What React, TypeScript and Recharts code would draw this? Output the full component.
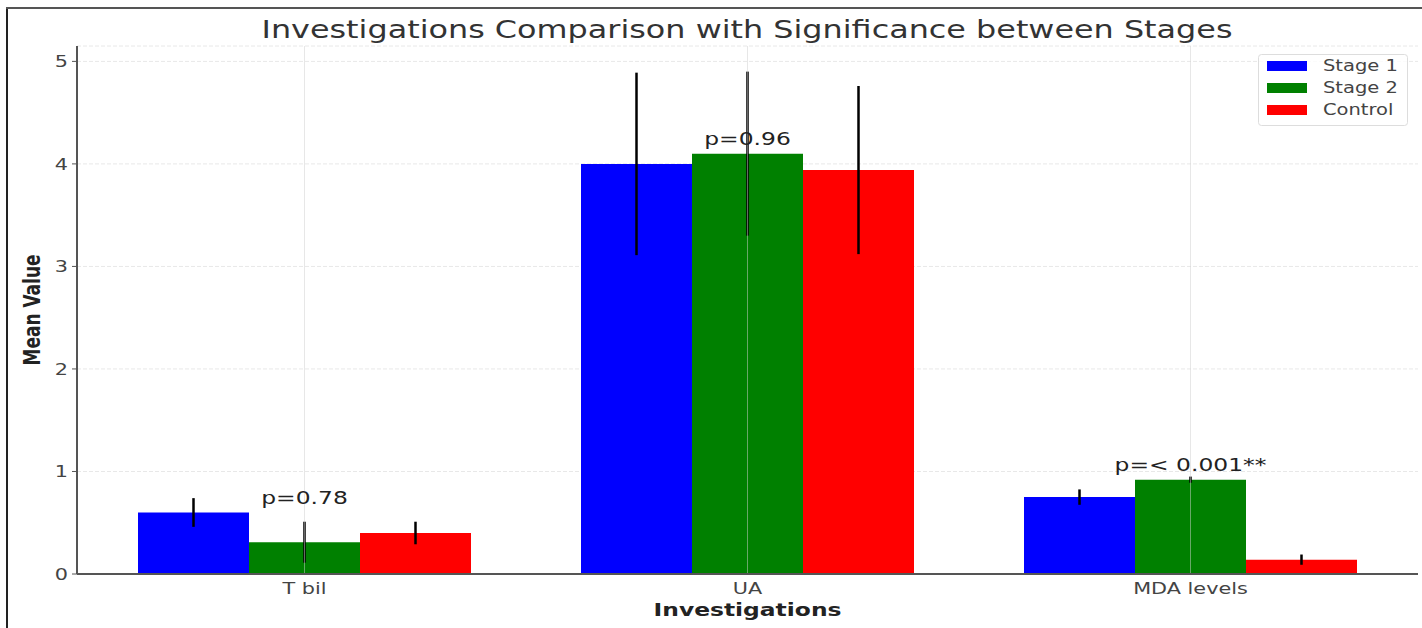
import {
  BarChart,
  Bar,
  XAxis,
  YAxis,
  CartesianGrid,
  ErrorBar,
  ReferenceDot,
  ReferenceLine,
} from "recharts";

const categories = ["T bil", "UA", "MDA levels"];
const stage1 = [0.6, 4.0, 0.75];
const stage1Err = [0.14, 0.89, 0.075];
const stage2 = [0.31, 4.1, 0.92];
const stage2Err = [0.2, 0.8, 0.03];
const control = [0.4, 3.94, 0.14];
const controlErr = [0.11, 0.82, 0.05];
const pValues = ["p=0.78", "p=0.96", "p=< 0.001**"];
const yTicks = [0, 1, 2, 3, 4, 5];

const series = [
  { key: "s1", err: "s1e", name: "Stage 1", color: "#0000ff" },
  { key: "s2", err: "s2e", name: "Stage 2", color: "#008000" },
  { key: "ctl", err: "ctle", name: "Control", color: "#ff0000" },
];

const data = categories.map((c, i) => ({
  name: c,
  s1: stage1[i],
  s1e: stage1Err[i],
  s2: stage2[i],
  s2e: stage2Err[i],
  ctl: control[i],
  ctle: controlErr[i],
  p: pValues[i],
  pY: Math.max(stage1[i], stage2[i], control[i]) + 0.15,
}));

// the source picture is stretched sideways, so text gets a horizontal scale
const SX = 1.3;
const FONT = "DejaVu Sans";

function YTick(props: any) {
  const { x, y, payload } = props;
  return (
    <text
      transform={`translate(${x},${y}) scale(${SX},1)`}
      textAnchor="end"
      dy="0.36em"
      fontSize={16}
      fontFamily={FONT}
      fill="#444"
    >
      {payload.value}
    </text>
  );
}

function XTick(props: any) {
  const { x, y, payload } = props;
  return (
    <text
      transform={`translate(${x},${y + 12}) scale(${SX},1)`}
      textAnchor="middle"
      fontSize={16}
      fontFamily={FONT}
      fill="#444"
    >
      {payload.value}
    </text>
  );
}

function LegendBox({ x, y }: { x: number; y: number }) {
  return (
    <g transform={`translate(${x},${y})`}>
      <rect x={0.5} y={0.5} width={149} height={71} rx={3} fill="#fff" fillOpacity={0.8} stroke="#ddd" />
      {series.map((s, i) => (
        <g key={s.key}>
          <rect x={9} y={7 + i * 22} width={40} height={10} fill={s.color} />
          <text
            transform={`translate(65,${17 + i * 22}) scale(${SX},1)`}
            fontSize={15}
            fontFamily={FONT}
            fill="#444"
          >
            {s.name}
          </text>
        </g>
      ))}
    </g>
  );
}

export default function App() {
  return (
    <div style={{ position: "absolute", left: 0, top: 0, width: 1422, height: 628, background: "#fff" }}>
      <BarChart
        width={1422}
        height={628}
        data={data}
        margin={{ top: 46, right: 4, bottom: 0, left: 0 }}
        barCategoryGap={55}
        barGap={0}
      >
        <CartesianGrid horizontal vertical={false} stroke="#e8e8e8" strokeDasharray="4 2" />
        <XAxis
          dataKey="name"
          height={54}
          padding={{ left: 6, right: 6 }}
          axisLine={{ stroke: "#555", strokeWidth: 2 }}
          tickLine={false}
          tickSize={6}
          tickMargin={2}
          tick={<XTick />}
          label={{
            content: (p: any) => {
              const vb = p.viewBox;
              return (
                <text
                  transform={`translate(${vb.x + vb.width / 2},${vb.y + 42}) scale(${SX},1)`}
                  textAnchor="middle"
                  fontSize={18}
                  fontWeight="bold"
                  fontFamily={FONT}
                  fill="#222"
                >
                  Investigations
                </text>
              );
            },
          }}
        />
        <YAxis
          width={77}
          domain={[0, 5.15]}
          ticks={yTicks}
          allowDataOverflow
          axisLine={{ stroke: "#555", strokeWidth: 2 }}
          tickLine={{ stroke: "#555" }}
          tickSize={5}
          tickMargin={4}
          tick={<YTick />}
          label={{
            content: (p: any) => {
              const vb = p.viewBox;
              return (
                <text
                  transform={`translate(40,${vb.y + vb.height / 2}) scale(${SX},1) rotate(-90)`}
                  textAnchor="middle"
                  fontSize={17}
                  fontWeight="bold"
                  fontFamily={FONT}
                  fill="#222"
                >
                  Mean Value
                </text>
              );
            },
          }}
        />
        {series.map((s) => (
          <Bar key={s.key} dataKey={s.key} name={s.name} fill={s.color} isAnimationActive={false}>
            <ErrorBar dataKey={s.err} direction="y" width={0} strokeWidth={2.5} stroke="#000" />
          </Bar>
        ))}
        {categories.map((c) => (
          <ReferenceLine key={c} x={c} stroke="#cfcfcf" strokeOpacity={0.5} />
        ))}
        {data.map((d) => (
          <ReferenceDot
            key={d.name}
            x={d.name}
            y={d.pY}
            r={1}
            fill="none"
            stroke="none"
            label={{
              content: (p: any) => {
                const vb = p.viewBox;
                return (
                  <text
                    transform={`translate(${vb.x + vb.width / 2},${vb.y + vb.height / 2}) scale(${SX},1)`}
                    textAnchor="middle"
                    dy="0.36em"
                    fontSize={18}
                    fontFamily={FONT}
                    fill="#222"
                  >
                    {d.p}
                  </text>
                );
              },
            }}
          />
        ))}
      </BarChart>
      <svg
        width={1422}
        height={628}
        style={{ position: "absolute", left: 0, top: 0, pointerEvents: "none" }}
      >
        <text
          transform={`translate(747,38) scale(${SX},1)`}
          textAnchor="middle"
          fontSize={24.5}
          fontFamily={FONT}
          fill="#333"
        >
          Investigations Comparison with Significance between Stages
        </text>
        <LegendBox x={1258} y={54} />
        <line x1={7} y1={8} x2={7} y2={628} stroke="#222" strokeWidth={2} />
        <line x1={6} y1={8} x2={1422} y2={8} stroke="#555" strokeWidth={2} />
      </svg>
    </div>
  );
}
